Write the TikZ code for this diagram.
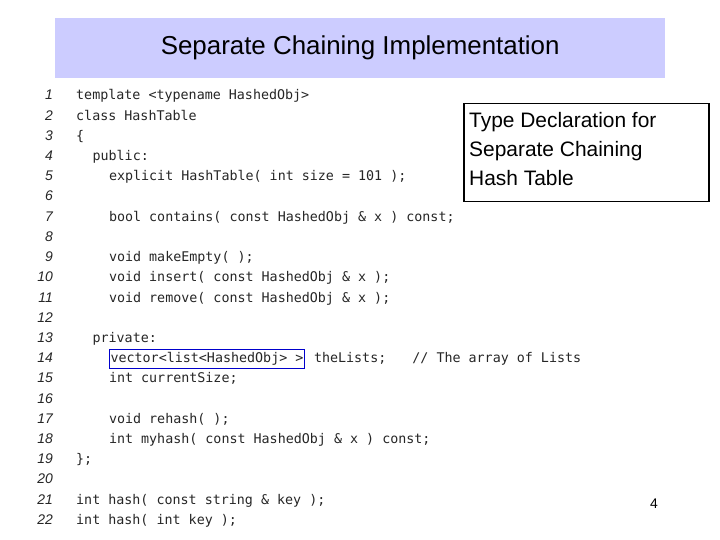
\documentclass[tikz,border=0pt]{standalone}
\usepackage{fontspec}
\setmainfont{Liberation Sans}
\setmonofont{DejaVu Sans Mono}
\newfontfamily\numfont{Liberation Sans}
\begin{document}
\begin{tikzpicture}[x=1bp,y=-1bp,
  code/.style={anchor=base west,inner sep=0pt,font=\ttfamily\fontsize{13.4}{14}\selectfont,text=black!85},
  lnum/.style={anchor=base east,inner sep=0pt,font=\numfont\itshape\fontsize{14}{14}\selectfont,text=black!85}]
\useasboundingbox (0,0) rectangle (720,540);
\fill[white] (0,0) rectangle (720,540);
\node[fill={rgb,255:red,204;green,204;blue,255},minimum width=610bp,minimum height=60bp,inner sep=0pt,anchor=north west,font=\fontsize{26}{28}\selectfont] (title) at (55,18) {Separate Chaining Implementation};
\foreach \i in {1,...,22}{\node[lnum] (n\i) at (53,{100+(\i-1)*20.2}) {\i};}
\def\cx#1{{76+#1*8.2}}
\def\ly#1{{100+(#1-1)*20.2}}
\node[code] (c1) at (\cx0,\ly1) {template <typename HashedObj>};
\node[code] (c2) at (\cx0,\ly2) {class HashTable};
\node[code] (c3) at (\cx0,\ly3) {\{};
\node[code] (c4) at (\cx2,\ly4) {public:};
\node[code] (c5) at (\cx4,\ly5) {explicit HashTable( int size = 101 );};
\node[code] (c7) at (\cx4,\ly7) {bool contains( const HashedObj \& x ) const;};
\node[code] (c9) at (\cx4,\ly9) {void makeEmpty( );};
\node[code] (c10) at (\cx4,\ly{10}) {void insert( const HashedObj \& x );};
\node[code] (c11) at (\cx4,\ly{11}) {void remove( const HashedObj \& x );};
\node[code] (c13) at (\cx2,\ly{13}) {private:};
\node[code,draw={rgb,255:red,0;green,0;blue,204},line width=1.5pt,inner xsep=1pt,inner ysep=3pt] (c14) at (\cx4,\ly{14}) {vector<list<HashedObj> >};
\node[code] (c14b) at (\cx{29},\ly{14}) {theLists;};
\node[code] (c14c) at (\cx{41},\ly{14}) {// The array of Lists};
\node[code] (c15) at (\cx4,\ly{15}) {int  currentSize;};
\node[code] (c17) at (\cx4,\ly{17}) {void rehash( );};
\node[code] (c18) at (\cx4,\ly{18}) {int myhash( const HashedObj \& x ) const;};
\node[code] (c19) at (\cx0,\ly{19}) {\};};
\node[code] (c21) at (\cx0,\ly{21}) {int hash( const string \& key );};
\node[code] (c22) at (\cx0,\ly{22}) {int hash( int key );};
\node[draw,line width=1.5pt,fill=white,anchor=north west,minimum width=245bp,minimum height=98bp,inner sep=0pt] (box) at (463,103) {};
\node[anchor=north west,align=left,inner sep=0pt,font=\fontsize{21}{29}\selectfont] (boxt) at (469,112) {Type Declaration for\\Separate Chaining\\Hash Table};
\node[font=\fontsize{14}{14}\selectfont] (pg) at (654,504) {4};
\end{tikzpicture}
\end{document}
